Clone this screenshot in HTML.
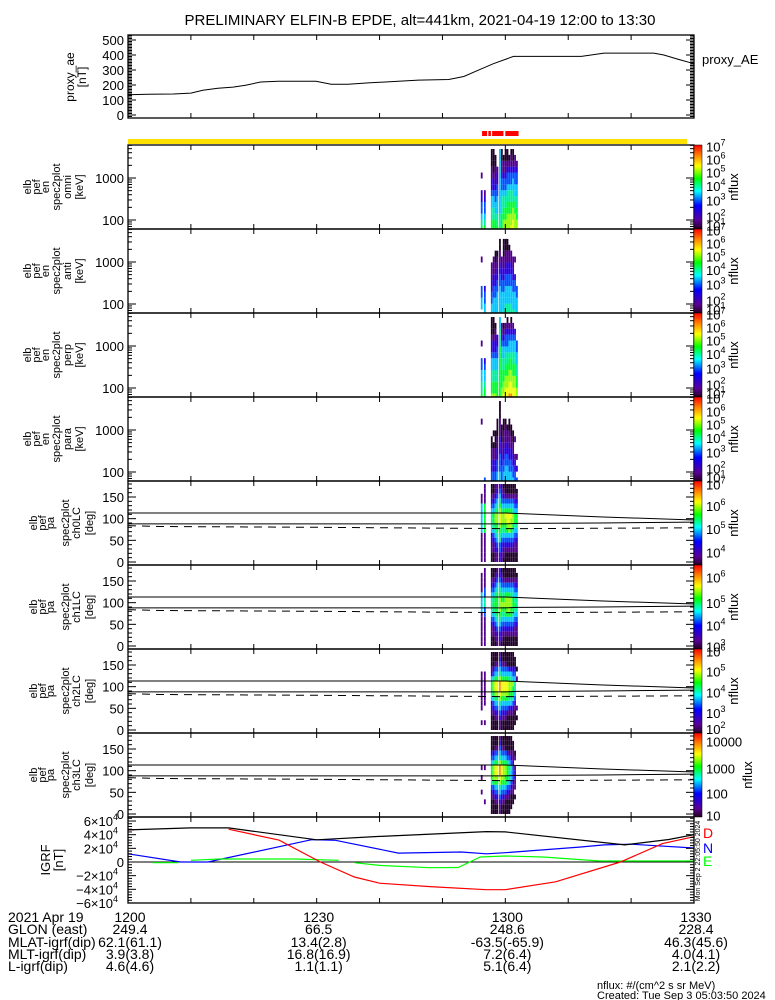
<!DOCTYPE html>
<html><head><meta charset="utf-8"><style>
html,body{margin:0;padding:0;background:#fff;}
svg{display:block;font-family:"Liberation Sans",sans-serif;}
text{fill:#000;}
</style></head><body>
<svg id="chart" width="775" height="1000" viewBox="0 0 775 1000" xmlns="http://www.w3.org/2000/svg">
<rect x="0" y="0" width="775" height="1000" fill="#fff"/>
<text x="420" y="25" font-size="15" text-anchor="middle">PRELIMINARY ELFIN-B EPDE, alt=441km, 2021-04-19 12:00 to 13:30</text>
<text x="702" y="64" font-size="13">proxy_AE</text>
<g id="footer" font-size="14">
<text x="8" y="922">2021 Apr 19</text>
<text x="8" y="934">GLON (east)</text>
<text x="8" y="947">MLAT-igrf(dip)</text>
<text x="8" y="959">MLT-igrf(dip)</text>
<text x="8" y="971">L-igrf(dip)</text>
</g>
<text x="597" y="989" font-size="11">nflux: #/(cm^2 s sr MeV)</text>
<text x="597" y="999" font-size="11">Created: Tue Sep  3 05:03:50 2024</text>
</svg>
<script>
// ---------------- data ----------------
const aeMinutes=[0,3.2,7.2,10,11.9,14.3,16.7,18.7,21.1,23.9,29.9,32.3,35,38.2,43,46.2,51,53.4,55.7,58.1,61.3,72.1,75.7,83.6,85.2,87.6,90];
const aeValues=[135,138,140,146,165,178,186,199,220,225,225,205,205,214,225,233,237,257,299,342,391,391,413,413,400,370,342];
const aeTicks=[0,100,200,300,400,500];

const specColumnsMin=[56.1,56.6,57.7,58.0,58.3,58.6,59.0,59.3,59.6,59.9,60.2,60.5,60.8,61.1,61.4,61.7];
const energyBinsKeV=[63,87,120,166,229,316,436,602,831,1147,1583,2185,3015,4162];
const pitchBinsDeg=[5.625,16.875,28.125,39.375,50.625,61.875,73.125,84.375,95.625,106.875,118.125,129.375,140.625,151.875,163.125,174.375];
const energyTicks=[100,1000];
const pitchTicks=[0,50,100,150];

const omniFlux=["6543322..1....","6543321.......","66554432211000","66554432210000","6654433211100.","65544433221...","55544444444444","66655543321100","7766554332110.","77665543321100","77766554332100","7776655433210.","87766554332110","88776554432100","7776654433211.","776655443321.."];
const antiFlux=[".4433....1....","44332.........","443322111.....","4443322111....","44433221100...","44443322110...","4444433221100.","4444332211....","5444332211000.","5544433221100.","5544433221100.","554443322110..","55444332211...","5444332211....","5444332..1....","44433........."];
const perpFlux=["6554433..1....","6654432.......","76655443221000","76655443221000","7665544322110.","66655443322...","66666666655544","7766655443211.","8776655443210.","8877665543321.","88776655433210","9887766544321.","98877665443210","8877665544321.","887766554432..","7766554433...."];
const paraFlux=["..........1...","3.............","33221100......","3322110.0.....","332211000.....","44332211000...","44333222111000","3332211000....","44332211100...","44433221110...","4443322110....","44332211100...","4433221100....","433221100.....","33221..1......","3.2.1........."];
const ch0Flux=["11111144444411..","1111116666661111","0011224555432100","0011234566432100","1122345677543211","1123456677654321","2233556788765432","1122345677543211","0112345677643210","0012346678643100","0012346788643100","0012347788643100","0012346778643100","0012345677543100","0011234566432100","001123456643210."];
const ch1Flux=["111111144441111.","1111113355331111","0011234555432100","0011234565432100","0112345666543210","1123456666654321","1223456777654322","0112345676543210","0012345676543100","0012346677643100","0012346777643100","0012346777643100","0012346677543100","0012345666543100","0011234565432100","001123455543210."];
const ch2Flux=[".1..11111111....",".1...1111111....","0001224566421000","0001235677532000","0012345788643100","0012346788643100","1123457899754321","0012346788643100","0012346788643100","0012346788643100","0001346788643000","0001245677542000","0001245677542000","0001235667432000",".00012345543200.","..0.1.....1.0..."];
const ch3Flux=["....1..1.1......","..1......1......","0001235666432000","0001236777532000","0012346788643100","0012346788643100","1123457899754321","0012346788643100","0012346777643100","0001346677643000","0001235666532000","0001234555431000",".000123445321000","..0011233321100.","...0.11221.10...","................"];

const lcTimes=[0,30,60,62,75,90];
const lcUpper=[113,113,113,112,104,97];
const lcLower=[88,88,88,89,90,92];
const dashTimes=[0,5,30,60,63,90];
const dashValues=[84,82,80,77,77,79];

const igrfTotalT=[0,10,16,30,40,57,60,79,86,90];
const igrfTotal=[47000,50000,50000,32500,37500,44500,44000,25000,33000,40000];
const igrfDT=[0,1,null,16,24,30.6,36,40,48,57,60,68,78.3,85,90];
const igrfD=[47000,47000,null,48000,32000,0,-22000,-31000,-36000,-40500,-40500,-29000,0,27000,37000];
const igrfNT=[0,8.4,12.7,29.2,33,43,53,57,60,72,75.7,80,90];
const igrfN=[12000,0,0,32700,31700,13000,14600,12000,13600,22000,25000,26000,20500];
const igrfET=[3.9,8,null,10,14.5,26.5,33.5,null,36,40,48,52.5,56,60,66,75,90];
const igrfE=[-1000,-1000,null,2500,4400,4400,2500,null,-1000,-5000,-8300,-8000,7300,8800,7300,1500,1500];
const igrfTicks=[-60000,-40000,-20000,0,20000,40000,60000];

const timeTickLabels=["1200","1230","1300","1330"];
const timeTickMin=[0,30,60,90];
const glonVals=["249.4","66.5","248.6","228.4"];
const mlatVals=["62.1(61.1)","13.4(2.8)","-63.5(-65.9)","46.3(45.6)"];
const mltVals=["3.9(3.8)","16.8(16.9)","7.2(6.4)","4.0(4.1)"];
const lVals=["4.6(4.6)","1.1(1.1)","5.1(6.4)","2.1(2.2)"];

// ---------------- drawing ----------------
const svg=document.getElementById('chart');
const NS='http://www.w3.org/2000/svg';
function add(parent,tag,attrs,name,text){
  const el=document.createElementNS(NS,tag);
  for(const k in attrs) el.setAttribute(k,attrs[k]);
  
  
  if(text!==undefined) el.textContent=text;
  parent.appendChild(el);
  return el;
}
const X0=128,X1=694;
const xOf=m=>X0+m*(X1-X0)/90;
const palette=["#1e0028","#50008c","#2a00e0","#0050ff","#00c8ff","#00f0a0","#00ff30","#90ff00","#f0ff00","#ff9000"];

function linePath(ts,vs,yf){
  let d='',pen=false;
  for(let i=0;i<ts.length;i++){
    if(ts[i]===null||vs[i]===null){pen=false;continue;}
    d+=(pen?'L':'M')+xOf(ts[i]).toFixed(1)+' '+yf(vs[i]).toFixed(1)+' ';
    pen=true;
  }
  return d;
}
function xTicks(g,top,bot){
  for(let m=10;m<90;m+=10){
    add(g,'line',{x1:xOf(m),x2:xOf(m),y1:bot,y2:bot-5,stroke:'#000','stroke-width':1},'x-tick');
    add(g,'line',{x1:xOf(m),x2:xOf(m),y1:top,y2:top+5,stroke:'#000','stroke-width':1},'x-tick');
  }
}
function yTick(g,y,len){
  add(g,'line',{x1:X0,x2:X0+len,y1:y,y2:y,stroke:'#000','stroke-width':1},'y-tick');
  add(g,'line',{x1:X1,x2:X1-len,y1:y,y2:y,stroke:'#000','stroke-width':1},'y-tick');
}
function frame(g,top,bot){
  add(g,'rect',{x:X0,y:top,width:X1-X0,height:bot-top,fill:'none',stroke:'#000','stroke-width':1.3},'panel-frame');
}
function sideLabel(g,lines,xs,cy,fs){
  lines.forEach((t,i)=>{
    add(g,'text',{x:xs[i],y:cy,'font-size':fs,'text-anchor':'middle',transform:`rotate(-90 ${xs[i]} ${cy})`},'y-axis-title-line',t);
  });
}
function supText(g,x,y,base,exp,anchor,name){
  const t=add(g,'text',{x:x,y:y,'font-size':13,'text-anchor':anchor||'start'},name);
  const a=document.createElementNS(NS,'tspan');a.textContent=base;t.appendChild(a);
  if(exp!==null){const b=document.createElementNS(NS,'tspan');b.setAttribute('dy','-6');b.setAttribute('font-size','9');b.textContent=exp;t.appendChild(b);}
  return t;
}
function colorbar(g,top,bot,labels,titleX){
  const id='cb'+top;
  const defs=add(g,'defs',{},'colorbar-defs');
  const lg=add(defs,'linearGradient',{id:id,x1:0,y1:1,x2:0,y2:0},'colorbar-gradient');
  [["0","#200020"],["0.1","#5a0096"],["0.28","#0000ff"],["0.45","#00ffff"],["0.6","#00ff00"],["0.75","#ffff00"],["0.88","#ff8000"],["1","#ff0000"]].forEach(s=>{
    add(lg,'stop',{offset:s[0],'stop-color':s[1]},'gradient-stop');
  });
  add(g,'rect',{x:694,y:top,width:8,height:bot-top,fill:`url(#${id})`,stroke:'#000','stroke-width':0.5},'colorbar');
  labels.forEach(l=>{supText(g,706,top+l[2]*(bot-top)+5,l[0],l[1],'start','colorbar-label');});
  const cy=(top+bot)/2;
  const tx=titleX||738;
  add(g,'text',{x:tx,y:cy,'font-size':13,'text-anchor':'middle',transform:`rotate(-90 ${tx} ${cy})`},'colorbar-title','nflux');
}

// top proxy AE panel
(function(){
  const g=add(svg,'g',{},'proxy-ae-panel');
  const top=35,bot=118;
  const yf=v=>115-v*0.15;
  frame(g,top,bot);
  for(let v=-10;v<=530;v+=10){ if(yf(v)>top&&yf(v)<bot) yTick(g,yf(v),v%100===0?8:4); }
  aeTicks.forEach(v=>add(g,'text',{x:124,y:yf(v)+5,'font-size':13,'text-anchor':'end'},'y-tick-label',String(v)));
  xTicks(g,top,bot);
  add(g,'path',{d:linePath(aeMinutes,aeValues,yf),fill:'none',stroke:'#000','stroke-width':1},'proxy-ae-line');
  sideLabel(g,['proxy_ae','[nT]'],[74,86],77,12);
})();

// red bars + yellow bar
(function(){
  const g=add(svg,'g',{},'orbit-status-bars');
  add(g,'rect',{x:X0,y:139,width:559,height:5,fill:'#ffe000'},'yellow-status-bar');
  [[56.3,57.1],[57.3,57.7],[57.9,59.7],[60.0,62.1]].forEach(s=>{
    add(g,'rect',{x:xOf(s[0]),y:131,width:xOf(s[1])-xOf(s[0]),height:5,fill:'#ff0000'},'red-science-zone-bar');
  });
})();

// energy spectrogram panels
const energyPanels=[[omniFlux,'omni'],[antiFlux,'anti'],[perpFlux,'perp'],[paraFlux,'para']];
const cbE=[["10","7",0.02],["10","6",0.17],["10","5",0.33],["10","4",0.49],["10","3",0.66],["10","2",0.85],["10","1",0.96]];
energyPanels.forEach((p,pi)=>{
  const top=145+84*pi,bot=top+84;
  const g=add(svg,'g',{},'energy-spectrogram-'+p[1]);
  const yf=e=>top+75-(Math.log10(e)-2)*42;
  const half=0.0707;
  p[0].forEach((col,ci)=>{
    const x=xOf(specColumnsMin[ci]);
    for(let r=0;r<col.length;r++){
      const ch=col[r]; if(ch==='.') continue;
      const lg=Math.log10(energyBinsKeV[r]);
      const y1=yf(Math.pow(10,lg+half)),y2=yf(Math.pow(10,lg-half));
      add(g,'rect',{x:x,y:Math.max(top,y1),width:1.8,height:Math.min(bot,y2)-Math.max(top,y1),fill:palette[+ch]},'spectrogram-cell');
    }
  });
  frame(g,top,bot);
  for(let d=10;d<=1000;d*=10){
    for(let k=1;k<10;k++){const e=d*k;const y=yf(e);if(y>top&&y<bot) yTick(g,y,k===1?8:4);}
  }
  energyTicks.forEach(e=>add(g,'text',{x:124,y:yf(e)+5,'font-size':13,'text-anchor':'end'},'y-tick-label',String(e)));
  xTicks(g,top,bot);
  sideLabel(g,['elb','pef','en','spec2plot',p[1],'[keV]'],[31,40,49,60,71,83],top+42,11);
  colorbar(g,top,bot,cbE);
});

// pitch-angle panels
const pitchPanels=[[ch0Flux,'ch0LC',[["10","7",0.04],["10","6",0.3],["10","5",0.57],["10","4",0.85]],738],
  [ch1Flux,'ch1LC',[["10","6",0.15],["10","5",0.45],["10","4",0.72],["10","3",0.97]],738],
  [ch2Flux,'ch2LC',[["10","6",0.03],["10","5",0.27],["10","4",0.52],["10","3",0.76],["10","2",0.95]],738],
  [ch3Flux,'ch3LC',[["10000",null,0.1],["1000",null,0.42],["100",null,0.72],["10",null,0.98]],752]];
pitchPanels.forEach((p,pi)=>{
  const top=481+84*pi,bot=top+84;
  const g=add(svg,'g',{},'pitch-spectrogram-'+p[1]);
  const yf=d=>top+81-d*0.4333;
  p[0].forEach((col,ci)=>{
    const x=xOf(specColumnsMin[ci]);
    for(let r=0;r<col.length;r++){
      const ch=col[r]; if(ch==='.') continue;
      const y1=yf(pitchBinsDeg[r]+5.625),y2=yf(pitchBinsDeg[r]-5.625);
      add(g,'rect',{x:x,y:Math.max(top,y1),width:1.8,height:Math.min(bot,y2)-Math.max(top,y1),fill:palette[+ch]},'spectrogram-cell');
    }
  });
  add(g,'path',{d:linePath(lcTimes,lcUpper,yf),fill:'none',stroke:'#000','stroke-width':1},'loss-cone-upper-line');
  add(g,'path',{d:linePath(lcTimes,lcLower,yf),fill:'none',stroke:'#000','stroke-width':1},'loss-cone-lower-line');
  add(g,'path',{d:linePath(dashTimes,dashValues,yf),fill:'none',stroke:'#000','stroke-width':1,'stroke-dasharray':'8,6'},'anti-loss-cone-dashed-line');
  frame(g,top,bot);
  for(let d=-10;d<=190;d+=10){const y=yf(d);if(y>top&&y<bot) yTick(g,y,d%50===0?8:4);}
  pitchTicks.forEach(d=>add(g,'text',{x:124,y:yf(d)+5,'font-size':13,'text-anchor':'end'},'y-tick-label',String(d)));
  xTicks(g,top,bot);
  sideLabel(g,['elb','pef','pa','spec2plot',p[1],'[deg]'],[37,46,54,69,80,93],top+42,11);
  colorbar(g,top,bot,p[2],p[3]);
});

// IGRF panel
(function(){
  const top=817,bot=903;
  const g=add(svg,'g',{},'igrf-panel');
  const yf=v=>862-v*6.83/10000;
  add(g,'line',{x1:X0,x2:X1,y1:yf(0),y2:yf(0),stroke:'#000','stroke-width':1},'zero-line');
  add(g,'path',{d:linePath(igrfNT,igrfN,yf),fill:'none',stroke:'#0000ff','stroke-width':1.2},'igrf-n-line');
  add(g,'path',{d:linePath(igrfET,igrfE,yf),fill:'none',stroke:'#00ff00','stroke-width':1.2},'igrf-e-line');
  add(g,'path',{d:linePath(igrfDT,igrfD,yf),fill:'none',stroke:'#ff0000','stroke-width':1.2},'igrf-d-line');
  add(g,'path',{d:linePath(igrfTotalT,igrfTotal,yf),fill:'none',stroke:'#000','stroke-width':1.2},'igrf-total-line');
  frame(g,top,bot);
  for(let v=-64000;v<=64000;v+=4000){const y=yf(v);if(y>top&&y<bot) yTick(g,y,v%20000===0?8:4);}
  igrfTicks.forEach(v=>{
    if(v===0){add(g,'text',{x:124,y:yf(0)+5,'font-size':13,'text-anchor':'end'},'y-tick-label','0');}
    else supText(g,118,yf(v)+5,(v<0?'\u2212':'')+Math.abs(v/10000)+'\u00d710',"4",'end','y-tick-label');
  });
  xTicks(g,top,bot);
  sideLabel(g,['IGRF','[nT]'],[50,63],860,13);
  add(g,'text',{x:703,y:838,'font-size':14},'legend-d','D').style.fill='#ff0000';
  add(g,'text',{x:703,y:853,'font-size':14},'legend-n','N').style.fill='#0000ff';
  add(g,'text',{x:703,y:866,'font-size':14},'legend-e','E').style.fill='#00ff00';
  add(g,'text',{x:700,y:861,'font-size':7,'text-anchor':'middle',transform:'rotate(-90 700 861)'},'timestamp-vertical','Mon Sep  2 22:05:50 2024');
})();

// footer values
(function(){
  const g=document.getElementById('footer');
  timeTickMin.forEach((m,i)=>{
    add(g,'text',{x:xOf(m)+2,y:922,'text-anchor':'middle'},'time-tick-label',timeTickLabels[i]);
    add(g,'text',{x:xOf(m)+2,y:934,'text-anchor':'middle'},'glon-value',glonVals[i]);
    add(g,'text',{x:xOf(m)+2,y:947,'text-anchor':'middle'},'mlat-value',mlatVals[i]);
    add(g,'text',{x:xOf(m)+2,y:959,'text-anchor':'middle'},'mlt-value',mltVals[i]);
    add(g,'text',{x:xOf(m)+2,y:971,'text-anchor':'middle'},'l-value',lVals[i]);
  });
})();
</script>
</body></html>
